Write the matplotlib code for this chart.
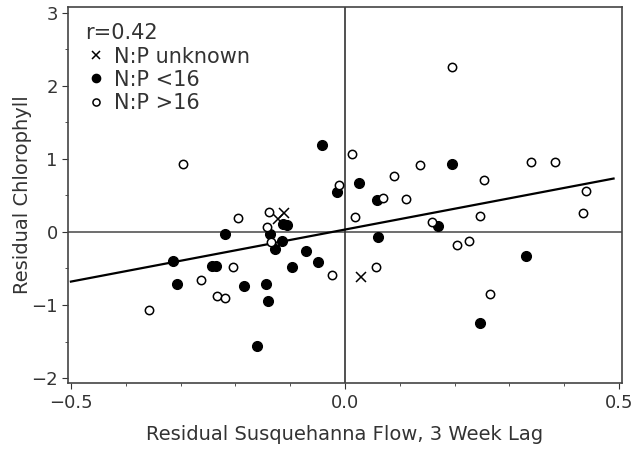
import numpy as np
import matplotlib.pyplot as plt
from matplotlib.ticker import MultipleLocator

# N:P > 16 (open circles)
open_x = [-0.295, 0.195, 0.013, -0.010, 0.090, 0.136, 0.070, 0.111, 0.018, 0.253,
          0.340, 0.384, 0.440, 0.435, 0.247, 0.158, 0.204, 0.227, 0.265, 0.056,
          -0.024, -0.358, -0.262, -0.233, -0.218, -0.204, -0.196, -0.138, -0.142, -0.135]
open_y = [0.93, 2.26, 1.07, 0.64, 0.77, 0.92, 0.47, 0.45, 0.21, 0.71,
          0.96, 0.95, 0.56, 0.26, 0.22, 0.14, -0.18, -0.12, -0.85, -0.48,
          -0.59, -1.07, -0.66, -0.88, -0.90, -0.48, 0.19, 0.27, 0.07, -0.14]

# N:P < 16 (filled circles)
filled_x = [-0.042, 0.025, -0.015, 0.058, 0.196, 0.169, 0.331, 0.247, 0.060, -0.071,
            -0.049, -0.096, -0.313, -0.306, -0.243, -0.235, -0.184, -0.144, -0.140, -0.160,
            -0.218, -0.127, -0.113, -0.136, -0.115, -0.105]
filled_y = [1.19, 0.67, 0.55, 0.44, 0.93, 0.08, -0.33, -1.25, -0.07, -0.26,
            -0.41, -0.48, -0.40, -0.71, -0.47, -0.46, -0.74, -0.71, -0.94, -1.56,
            -0.03, -0.23, 0.11, -0.03, -0.12, 0.10]

# N:P unknown (crosses)
unk_x = [-0.111, -0.122, 0.029]
unk_y = [0.26, 0.18, -0.62]

# regression line end points
fit_x = [-0.5, 0.49]
fit_y = [-0.68, 0.73]

plt.rcParams['font.family'] = ['DejaVu Sans']
fig = plt.figure(figsize=(6.43, 4.54), dpi=100)
ax = fig.add_axes([0.106, 0.156, 0.861, 0.829])

ax.axhline(0, color='#555555', lw=1.2, zorder=1)
ax.axvline(0, color='#333333', lw=1.2, zorder=1)
ax.plot(fit_x, fit_y, color='black', lw=1.6, zorder=2)

ax.plot(unk_x, unk_y, 'x', color='black', ms=7, mew=1.1, ls='none', label='N:P unknown', zorder=3)
ax.plot(filled_x, filled_y, 'o', color='black', ms=7, ls='none', label='N:P <16', zorder=3)
ax.plot(open_x, open_y, 'o', mfc='white', mec='black', mew=1.1, ms=6, ls='none', label='N:P >16', zorder=3)

ax.set_xlim(-0.505, 0.505)
ax.set_ylim(-2.07, 3.08)
ax.set_xticks([-0.5, 0.0, 0.5])
ax.set_xticklabels(['\u22120.5', '0.0', '0.5'])
ax.set_yticks([-2, -1, 0, 1, 2, 3])
ax.xaxis.set_minor_locator(MultipleLocator(0.1))
ax.yaxis.set_minor_locator(MultipleLocator(0.5))
ax.tick_params(which='both', labelsize=13, colors='#333333', direction='out')
ax.tick_params(which='major', length=4)
ax.tick_params(which='minor', length=2)
for s in ax.spines.values():
    s.set_color('#444444')
    s.set_linewidth(1.2)

ax.set_xlabel('Residual Susquehanna Flow, 3 Week Lag', fontsize=14, color='#333333', labelpad=10)
ax.set_ylabel('Residual Chlorophyll', fontsize=14, color='#333333')
ax.yaxis.set_label_coords(-0.065, 0.5)

leg = ax.legend(title='r=0.42', loc='upper left', frameon=False, fontsize=15,
                title_fontsize=15, handletextpad=0.3, labelspacing=0.15,
                borderaxespad=0.4, handlelength=1.1, markerscale=0.85)
leg._legend_box.align = 'left'
for t in leg.get_texts():
    t.set_color('#333333')
leg.get_title().set_color('#333333')

fig.savefig('out.png', dpi=100)
